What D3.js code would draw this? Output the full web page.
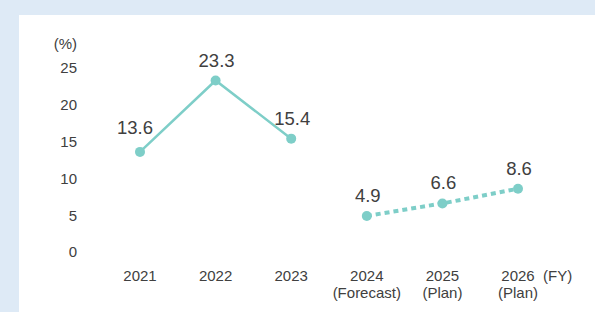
<!DOCTYPE html>
<html lang="en">
<head>
<meta charset="UTF-8">
<title>Ratio by fiscal year</title>
<script src="https://cdnjs.cloudflare.com/ajax/libs/d3/7.8.5/d3.min.js"></script>
<style>
  html, body { margin: 0; padding: 0; background: #deeaf6; }
  svg { display: block; }
  text { font-family: "Liberation Sans", Arial, sans-serif; fill: #404040; }
</style>
</head>
<body>
<div id="chart"></div>
<script>
// values
const years = ["2021", "2022", "2023", "2024", "2025", "2026"];
const subLabels = ["", "", "", "(Forecast)", "(Plan)", "(Plan)"];
const values = [13.6, 23.3, 15.4, 4.9, 6.6, 8.6];
const actualCount = 3; // first three are results, the rest forecast/plan
const yTicks = [0, 5, 10, 15, 20, 25];

const W = 595, H = 312;
const teal = "#7ecec8";

const svg = d3.select("#chart").append("svg")
  .attr("width", W).attr("height", H);

// white panel
svg.append("rect")
  .attr("x", 19).attr("y", 15)
  .attr("width", W - 19).attr("height", H - 15)
  .attr("fill", "#fff");

const x = d3.scalePoint().domain(years).range([140, 518]);
const y = d3.scaleLinear().domain([0, 25]).range([252, 68]);

// y tick labels (no axis line)
svg.selectAll(".ytick")
  .data(yTicks)
  .enter().append("text")
  .attr("class", "ytick")
  .attr("x", 77)
  .attr("y", d => y(d))
  .attr("dy", "0.36em")
  .attr("text-anchor", "end")
  .style("font-size", "15px")
  .text(d => d);

svg.append("text")
  .attr("x", 77).attr("y", 49)
  .attr("text-anchor", "end")
  .style("font-size", "15px")
  .text("(%)");

// x labels
const xl = svg.selectAll(".xlab")
  .data(years)
  .enter().append("text")
  .attr("class", "xlab")
  .attr("text-anchor", "middle")
  .style("font-size", "15px");
xl.append("tspan")
  .attr("x", d => x(d)).attr("y", 281)
  .text(d => d);
xl.append("tspan")
  .attr("x", d => x(d)).attr("y", 298)
  .text((d, i) => subLabels[i]);

svg.append("text")
  .attr("x", 543).attr("y", 281)
  .style("font-size", "15px")
  .text("(FY)");

const pts = years.map((d, i) => ({ year: d, v: values[i] }));
const line = d3.line().x(d => x(d.year)).y(d => y(d.v));

svg.append("path")
  .datum(pts.slice(0, actualCount))
  .attr("d", line)
  .attr("fill", "none")
  .attr("stroke", teal)
  .attr("stroke-width", 2.5);

svg.append("path")
  .datum(pts.slice(actualCount))
  .attr("d", line)
  .attr("fill", "none")
  .attr("stroke", teal)
  .attr("stroke-width", 4)
  .attr("stroke-dasharray", "5 4");

svg.selectAll(".dot")
  .data(pts)
  .enter().append("circle")
  .attr("class", "dot")
  .attr("cx", d => x(d.year))
  .attr("cy", d => y(d.v))
  .attr("r", 5)
  .attr("fill", teal);

svg.selectAll(".vlab")
  .data(pts)
  .enter().append("text")
  .attr("class", "vlab")
  .attr("x", (d, i) => x(d.year) + (i === 0 ? -5 : 1))
  .attr("y", (d, i) => y(d.v) - (i === 0 ? 18 : 14))
  .attr("text-anchor", "middle")
  .style("font-size", "18.5px")
  .text(d => d.v.toFixed(1));
</script>
</body>
</html>
